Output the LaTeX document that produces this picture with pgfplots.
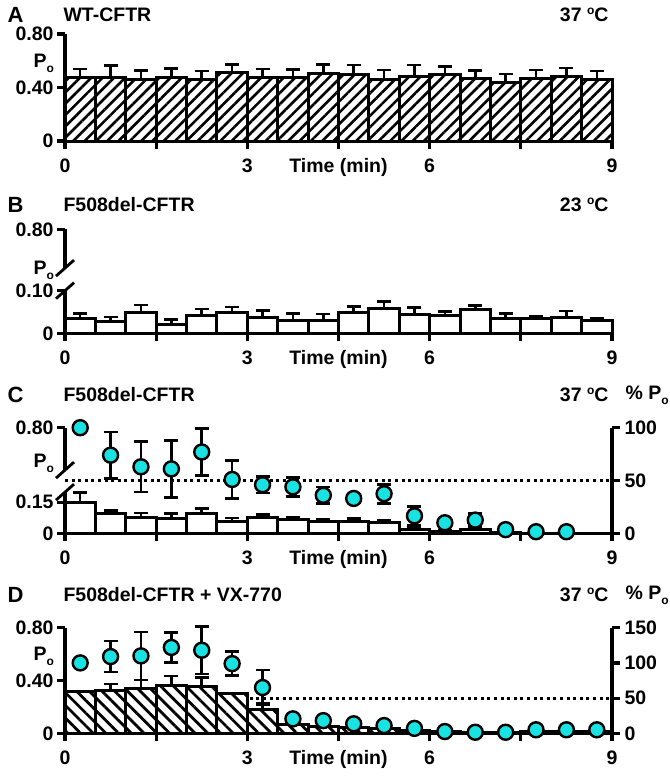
\documentclass[border=0pt]{standalone}
\usepackage{fontspec}
\setmainfont{Liberation Sans}
\usepackage{pgfplots}
\usepackage{pgfplotstable}
\pgfplotsset{compat=1.18}
\usetikzlibrary{patterns.meta}
\definecolor{cy}{RGB}{24,226,226}

\newcommand{\fs}{\bfseries\fontsize{19.5}{21}\selectfont}
\newcommand{\sub}[1]{\raisebox{-5pt}{\fontsize{12}{12}\selectfont #1}}
\newcommand{\sups}[1]{\raisebox{7pt}{\fontsize{12}{12}\selectfont #1}}

\pgfplotstableread{
x y e
0.25 0.473 0.065
0.75 0.473 0.090
1.25 0.462 0.065
1.75 0.472 0.068
2.25 0.457 0.066
2.75 0.515 0.058
3.25 0.472 0.066
3.75 0.475 0.060
4.25 0.502 0.072
4.75 0.500 0.067
5.25 0.457 0.073
5.75 0.483 0.085
6.25 0.495 0.062
6.75 0.470 0.058
7.25 0.435 0.065
7.75 0.468 0.062
8.25 0.485 0.062
8.75 0.463 0.060
}\dataA

\pgfplotstableread{
x y e
0.25 0.035 0.012
0.75 0.028 0.010
1.25 0.048 0.018
1.75 0.020 0.013
2.25 0.042 0.015
2.75 0.048 0.014
3.25 0.036 0.018
3.75 0.031 0.016
4.25 0.030 0.015
4.75 0.048 0.015
5.25 0.058 0.017
5.75 0.043 0.017
6.25 0.041 0.010
6.75 0.055 0.010
7.25 0.035 0.012
7.75 0.034 0.006
8.25 0.037 0.015
8.75 0.031 0.004
}\dataB

\pgfplotstableread{
x y e
0.25 0.150 0.045
0.75 0.095 0.016
1.25 0.077 0.020
1.75 0.073 0.022
2.25 0.096 0.022
2.75 0.056 0.017
3.25 0.078 0.012
3.75 0.065 0.010
4.25 0.058 0.010
4.75 0.058 0.012
5.25 0.052 0.010
5.75 0.020 0.010
6.25 0.010 0.005
6.75 0.016 0.006
7.25 0.004 0.002
7.75 0.001 0.000
8.25 0.001 0.000
8.75 0.000 0.000
}\dataCbar

\pgfplotstableread{
x y e
0.25 100 0
0.75 74 22
1.25 63 24
1.75 61 27
2.25 77 22
2.75 51 18
3.25 46 8
3.75 44 9
4.25 36 8
4.75 33 4
5.25 37.5 9
5.75 16.5 9
6.25 10 3
6.75 12.5 6
7.25 3.5 0
7.75 1.5 0
8.25 1.5 0
}\dataCpct

\pgfplotstableread{
x y e
0.25 0.315 0.005
0.75 0.323 0.050
1.25 0.343 0.060
1.75 0.360 0.075
2.25 0.355 0.070
2.75 0.298 0.008
3.25 0.180 0.045
3.75 0.065 0.012
4.25 0.055 0.010
4.75 0.045 0.008
5.25 0.035 0.006
5.75 0.025 0.005
6.25 0.012 0.003
6.75 0.008 0.000
7.25 0.008 0.000
7.75 0.015 0.003
8.25 0.015 0.003
8.75 0.015 0.003
}\dataDbar

\pgfplotstableread{
x y e
0.25 100 0
0.75 109 22
1.25 110 34
1.75 122 21
2.25 118 34
2.75 99 17
3.25 65 25
3.75 20.5 0
4.25 18 0
4.75 13.5 0
5.25 11 0
5.75 7 0
6.25 2.5 0
6.75 1.5 0
7.25 1.5 0
7.75 5 0
8.25 5 0
8.75 5 0
}\dataDpct

\def\AX{65pt}
\def\AW{547pt}

\pgfplotsset{
  base/.style={
    scale only axis, width=\AW, xmin=0, xmax=9, ymin=0,
    anchor=south west, clip=false,
    axis x line=bottom, axis y line=left,
    axis line style={line width=3.2pt, -},
    tick align=outside, major tick length=8pt,
    every tick/.style={line width=3.2pt, black},
    xtick={0,1.5,3,4.5,6,7.5,9},
    xticklabels={0,,3,Time (min),6,,9},
    ticklabel style={font=\fs},
    xticklabel style={yshift=-6pt},
    yticklabel style={xshift=0pt},
  },
  rightax/.style={
    scale only axis, width=\AW, xmin=0, xmax=9, ymin=0,
    anchor=south west, clip=false,
    axis x line=none, axis y line=right,
    axis line style={line width=3.2pt, -},
    tick align=outside, major tick length=8pt,
    every tick/.style={line width=3.2pt, black},
    ticklabel style={font=\fs},
    yticklabel style={xshift=1pt},
  },
  hiddenax/.style={
    scale only axis, width=\AW, xmin=0, xmax=9, ymin=0,
    anchor=south west, clip=false, hide axis,
  },
  bars/.style={
    ybar, bar width=0.5, bar shift=0pt, draw=black, line width=3pt, fill=white,
    error bars/y dir=plus, error bars/y explicit,
    error bars/error bar style={line width=2.6pt, black, solid},
    error bars/error mark options={rotate=90, mark size=7pt, line width=2.6pt, black, solid},
  },
  circ/.style={
    only marks, mark=*, mark size=7.5pt,
    mark options={fill=cy, draw=black, line width=2.4pt},
    error bars/y dir=both, error bars/y explicit,
    error bars/error bar style={line width=2.6pt, black},
    error bars/error mark options={rotate=90, mark size=7pt, line width=2.6pt, black, fill=black},
  },
}

\begin{document}
\begin{tikzpicture}
\useasboundingbox (0,0) rectangle (670pt,-780pt);

% ---------------- Panel A ----------------
\begin{axis}[base, at={(\AX,-141pt)}, height=107pt, ymax=0.8,
  ytick={0,0.4,0.8}, yticklabels={0,0.40,0.80}]
\addplot[bars, postaction={pattern={Lines[angle=45,distance=8pt,line width=2.6pt]}}]
  table[x=x, y=y, y error=e] {\dataA};
\end{axis}

% ---------------- Panel B ----------------
\begin{axis}[base, at={(\AX,-333.3pt)}, height=104pt, ymax=0.244,
  ytick={0,0.1,0.244}, yticklabels={0,0.10,0.80},
  y axis line style={draw=none}]
\addplot[bars] table[x=x, y=y, y error=e] {\dataB};
\draw[line width=3.2pt] (axis cs:0,0) -- (axis cs:0,0.10);
\draw[line width=3.2pt] (axis cs:0,0.153) -- (axis cs:0,0.244);
\draw[line width=2.8pt] ([shift={(-9pt,-8pt)}]axis cs:0,0.10) -- ([shift={(9pt,8pt)}]axis cs:0,0.10);
\draw[line width=2.8pt] ([shift={(-9pt,-8pt)}]axis cs:0,0.153) -- ([shift={(9pt,8pt)}]axis cs:0,0.153);
\end{axis}

% ---------------- Panel C ----------------
\begin{axis}[base, at={(\AX,-533.3pt)}, height=105.6pt, ymax=0.508,
  ytick={0,0.15,0.508}, yticklabels={0,0.15,0.80},
  y axis line style={draw=none}]
\addplot[bars] table[x=x, y=y, y error=e] {\dataCbar};
\draw[line width=3.2pt] (axis cs:0,0) -- (axis cs:0,0.198);
\draw[line width=3.2pt] (axis cs:0,0.304) -- (axis cs:0,0.508);
\draw[line width=2.8pt] ([shift={(-9pt,-8pt)}]axis cs:0,0.198) -- ([shift={(9pt,8pt)}]axis cs:0,0.198);
\draw[line width=2.8pt] ([shift={(-9pt,-8pt)}]axis cs:0,0.304) -- ([shift={(9pt,8pt)}]axis cs:0,0.304);
\end{axis}
\begin{axis}[rightax, at={(\AX,-533.3pt)}, height=105.6pt, ymax=100,
  ytick={0,50,100}, yticklabels={0,50,100}]
\addplot[line width=3pt, dash pattern=on 3pt off 3.6pt] coordinates {(0,50) (9,50)};
\addplot[circ] table[x=x, y=y, y error=e] {\dataCpct};
\end{axis}

% ---------------- Panel D ----------------
\begin{axis}[hiddenax, at={(\AX,-733.3pt)}, height=105.6pt, ymax=150]
\addplot[line width=3pt, dash pattern=on 3pt off 3.6pt] coordinates {(0,50) (9,50)};
\end{axis}
\begin{axis}[base, at={(\AX,-733.3pt)}, height=105.6pt, ymax=0.8,
  ytick={0,0.4,0.8}, yticklabels={0,0.40,0.80}]
\addplot[bars, postaction={pattern={Lines[angle=-45,distance=9pt,line width=2.8pt]}}]
  table[x=x, y=y, y error=e] {\dataDbar};
\end{axis}
\begin{axis}[rightax, at={(\AX,-733.3pt)}, height=105.6pt, ymax=150,
  ytick={0,50,100,150}, yticklabels={0,50,100,150}]
\addplot[circ] table[x=x, y=y, y error=e] {\dataDpct};
\end{axis}

% ---------------- Texts ----------------
\tikzset{lt/.style={anchor=west, font=\bfseries\fontsize{22}{22}\selectfont},
         tt/.style={anchor=west, font=\fs},
         rt/.style={anchor=east, font=\fs},
         pct/.style={anchor=east, inner xsep=1pt, font=\fs}}
\node[lt] at (4pt,-15pt) {A};
\node[tt] at (60pt,-15pt) {WT-CFTR};
\node[rt] at (612pt,-15pt) {37 \sups{o}C};
\node[tt] at (30pt,-63pt) {P\sub{o}};

\node[lt] at (4pt,-205pt) {B};
\node[tt] at (60pt,-205pt) {F508del-CFTR};
\node[rt] at (612pt,-205pt) {23 \sups{o}C};
\node[tt] at (30pt,-270pt) {P\sub{o}};

\node[lt] at (4pt,-395pt) {C};
\node[tt] at (60pt,-395pt) {F508del-CFTR};
\node[rt] at (612pt,-395pt) {37 \sups{o}C};
\node[pct] at (670pt,-395pt) {\% P\sub{o}};
\node[tt] at (30pt,-463pt) {P\sub{o}};

\node[lt] at (4pt,-595pt) {D};
\node[tt] at (60pt,-595pt) {F508del-CFTR + VX-770};
\node[rt] at (612pt,-595pt) {37 \sups{o}C};
\node[pct] at (670pt,-595pt) {\% P\sub{o}};
\node[tt] at (30pt,-656pt) {P\sub{o}};
\end{tikzpicture}
\end{document}
